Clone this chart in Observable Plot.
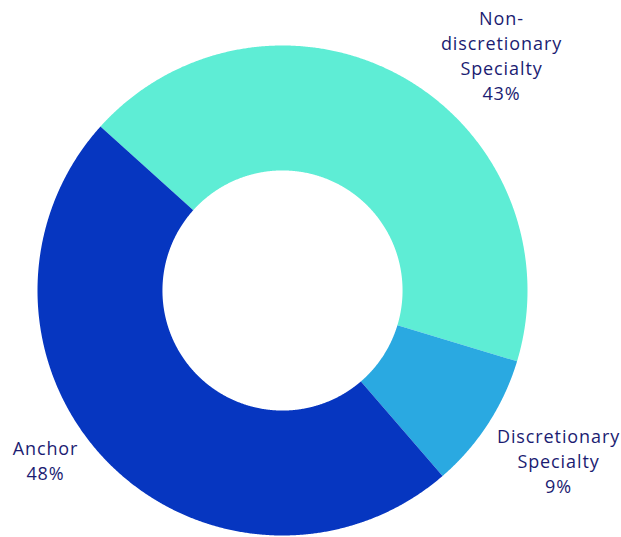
<!DOCTYPE html>
<html>
<head>
<meta charset="utf-8">
<script src="https://cdn.jsdelivr.net/npm/d3@7"></script>
<script src="https://cdn.jsdelivr.net/npm/@observablehq/plot@0.6"></script>
<style>
  html, body { margin: 0; padding: 0; background: #fff; }
  #chart svg { display: block; }
  #chart svg text { letter-spacing: 0.9px; }
</style>
</head>
<body>
<div id="chart"></div>
<script>
// ---- data ----
const categories = ["Non-discretionary Specialty", "Discretionary Specialty", "Anchor"];
const labelLines = ["Non-\ndiscretionary\nSpecialty", "Discretionary\nSpecialty", "Anchor"];
const shares = [43, 9, 48];
const colors = ["#5eedd5", "#2aa9e1", "#0636c0"];

// ---- layout ----
const W = 621, H = 537;
const cx = 282, cy = 290, R = 245;        // pixels
const innerRatio = 0.49;
const startAngle = -48 * Math.PI / 180;   // clockwise from north
// label block centres, in pixels
const labelPos = [[501, 54], [558, 459], [45, 459]];

const pie = d3.pie().sort(null).value(d => d.value)
  .startAngle(startAngle).endAngle(startAngle + 2 * Math.PI);
const slices = pie(categories.map((c, i) => ({name: c, value: shares[i]})));

// polygon outline of each slice in unit coordinates
const pts = [];
for (const s of slices) {
  const n = Math.max(8, Math.ceil((s.endAngle - s.startAngle) / 0.005));
  for (let k = 0; k <= n; k++) {
    const a = s.startAngle + (s.endAngle - s.startAngle) * k / n;
    pts.push({name: s.data.name, x: Math.sin(a), y: Math.cos(a)});
  }
  for (let k = n; k >= 0; k--) {
    const a = s.startAngle + (s.endAngle - s.startAngle) * k / n;
    pts.push({name: s.data.name, x: innerRatio * Math.sin(a), y: innerRatio * Math.cos(a)});
  }
}

const labels = categories.map((c, i) => ({
  name: c,
  text: labelLines[i] + "\n" + shares[i] + "%",
  x: (labelPos[i][0] - cx) / R,
  y: (cy - labelPos[i][1]) / R
}));

const chart = Plot.plot({
  width: W,
  height: H,
  margin: 0,
  style: {background: "#fff"},
  x: {domain: [-cx / R, (W - cx) / R], axis: null},
  y: {domain: [(cy - H) / R, cy / R], axis: null},
  color: {domain: categories, range: colors},
  marks: [
    Plot.line(pts, {x: "x", y: "y", z: "name", fill: "name", stroke: null, curve: "linear"}),
    Plot.text(labels, {
      x: "x", y: "y", text: "text",
      fontSize: 18, lineHeight: 1.39,
      fontWeight: 500,
      fill: "#1b1c72",
      fontFamily: "'Open Sans', 'Noto Sans', sans-serif",
      textAnchor: "middle"
    })
  ]
});
document.getElementById("chart").appendChild(chart);
</script>
</body>
</html>
